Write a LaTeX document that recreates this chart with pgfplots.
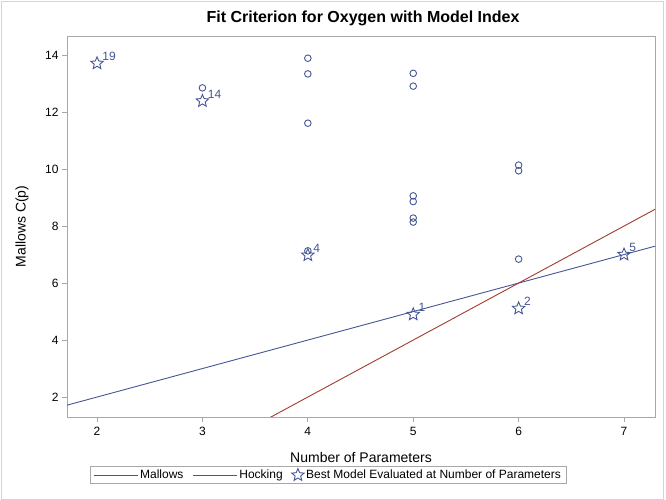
\documentclass[border=0pt]{standalone}
\usepackage{pgfplots}
\pgfplotsset{compat=1.18}
\usepackage{fontspec}
\setmainfont{Liberation Sans}

\definecolor{sasblue}{HTML}{445694}
\definecolor{sasred}{HTML}{A23A2E}
\definecolor{framegray}{HTML}{A8A8A8}
\definecolor{pagegray}{HTML}{D4D4D4}

\pgfplotsset{longline/.style={legend image code/.code={\draw[#1, line width=0.9pt] (0pt,0pt) -- (44pt,0pt);}}}

% open five-point star, like the SAS marker
\pgfdeclareplotmark{ostar}{%
  \pgfpathmoveto{\pgfpointpolar{90}{\pgfplotmarksize}}%
  \pgfpathlineto{\pgfpointpolar{126}{0.45\pgfplotmarksize}}%
  \pgfpathlineto{\pgfpointpolar{162}{\pgfplotmarksize}}%
  \pgfpathlineto{\pgfpointpolar{198}{0.45\pgfplotmarksize}}%
  \pgfpathlineto{\pgfpointpolar{234}{\pgfplotmarksize}}%
  \pgfpathlineto{\pgfpointpolar{270}{0.45\pgfplotmarksize}}%
  \pgfpathlineto{\pgfpointpolar{306}{\pgfplotmarksize}}%
  \pgfpathlineto{\pgfpointpolar{342}{0.45\pgfplotmarksize}}%
  \pgfpathlineto{\pgfpointpolar{18}{\pgfplotmarksize}}%
  \pgfpathlineto{\pgfpointpolar{54}{0.45\pgfplotmarksize}}%
  \pgfpathclose
  \pgfusepathqstroke
}

% all models (circles)
\pgfplotstableread{
x y
3 12.85
4 13.89
4 13.34
4 11.61
4 7.13
5 13.36
5 12.91
5 9.06
5 8.86
5 8.28
5 8.14
6 10.14
6 9.94
6 6.84
}\allmodels

% best model for each number of parameters
\pgfplotstableread{
x y label
2 13.71 19
3 12.39 14
4 6.98 4
5 4.90 1
6 5.11 2
7 7.00 5
}\bestmodels

\begin{document}
\begin{tikzpicture}
% page: 666 x 500, axis box corner at (67,83) from bottom left
\useasboundingbox (-67pt,-83pt) rectangle (599pt,417pt);
\draw[pagegray, line width=0.8pt] (-66pt,-82pt) rectangle (596pt,416pt);
\node[font=\fontsize{16}{19}\selectfont\bfseries] at (296pt,399pt) {Fit Criterion for Oxygen with Model Index};
\begin{axis}[
  scale only axis, width=588pt, height=381pt,
  xmin=1.715, xmax=7.294,
  ymin=1.30, ymax=14.67,
  xtick={2,3,...,7}, ytick={2,4,...,14},
  axis line style={framegray},
  tick style={framegray, line width=0.8pt},
  tick align=outside, major tick length=5pt,
  xtick pos=bottom, ytick pos=left,
  tick label style={font=\fontsize{12}{14}\selectfont, black},
  xticklabel style={yshift=-2pt},
  /pgf/number format/assume math mode=true,
  xlabel={Number of Parameters},
  ylabel={Mallows C(p)},
  label style={font=\fontsize{14}{16}\selectfont},
  xlabel style={at={(axis description cs:0.5,-0.105)}, anchor=center},
  ylabel style={at={(axis description cs:-0.0765,0.5)}, anchor=center},
  legend style={at={(axis description cs:0.444,-0.1525)}, anchor=center,
    legend columns=3, draw=framegray, font=\fontsize{12}{14}\selectfont,
    inner xsep=3pt, inner ysep=1.5pt,
    /tikz/every even column/.append style={column sep=7pt}},
]
\addplot[sasblue, line width=0.9pt, longline=sasblue]
  coordinates {(1,1) (8,8)};
\addlegendentry{Mallows}
\addplot[sasred, line width=0.9pt, longline=sasred]
  coordinates {(2,-2) (8,10)};
\addlegendentry{Hocking}
\addplot[forget plot, only marks, mark=o, mark size=3.3pt, sasblue, line width=0.9pt]
  table {\allmodels};
\addplot[only marks, mark=ostar, mark size=6.5pt, sasblue, line width=0.9pt,
  nodes near coords, point meta=explicit symbolic,
  every node near coord/.append style={anchor=west, inner sep=0pt,
    xshift=5pt, yshift=7pt, font=\fontsize{12}{14}\selectfont}]
  table[meta=label] {\bestmodels};
\addlegendentry{Best Model Evaluated at Number of Parameters}
\end{axis}
\end{tikzpicture}
\end{document}
